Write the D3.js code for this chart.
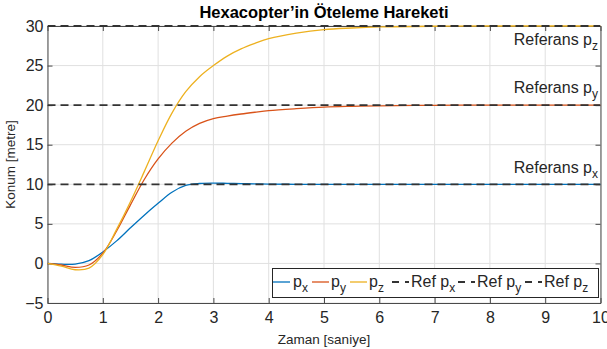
<!DOCTYPE html>
<html><head><meta charset="utf-8">
<script src="https://cdn.jsdelivr.net/npm/d3@7"></script>
<style>
html,body{margin:0;padding:0;background:#fff;}
svg{display:block;font-family:"Liberation Sans",Arial,Helvetica,sans-serif;}
</style></head>
<body>
<svg id="chart" width="607" height="349"></svg>
<script>
const time = [0,0.25,0.5,0.75,1,1.25,1.5,1.75,2,2.25,2.5,2.75,3,3.25,3.5,3.75,4,4.5,5,5.5,6,7,8,9,10];
const px = [0,-0.1,-0.08,0.35,1.45,2.85,4.5,6.1,7.6,9.0,9.85,10.1,10.15,10.12,10.08,10.05,10.02,10.0,10.0,10.0,10.0,10.0,10.0,10.0,10.0];
const py = [0,-0.2,-0.5,-0.2,1.3,4.1,7.4,10.6,13.2,15.2,16.7,17.7,18.3,18.62,18.88,19.1,19.3,19.55,19.75,19.85,19.92,19.98,20.0,20.0,20.0];
const pz = [0,-0.35,-0.8,-0.6,1.1,4.3,7.8,11.6,15.5,19.0,21.7,23.6,25.0,26.2,27.1,27.8,28.4,29.1,29.55,29.75,29.88,29.97,30.0,30.0,30.0];
const refs = [10,20,30];
const refLabels = [{v:11.46, sub:"x"},{v:21.57, sub:"y"},{v:27.6, sub:"z"}];
const xTicks = [0,1,2,3,4,5,6,7,8,9,10];
const yTicks = [-5,0,5,10,15,20,25,30];
const colors = ["#0072BD","#D95319","#EDB120"];
const title = "Hexacopter\u2019in \u00D6teleme Hareketi";
const xLabel = "Zaman [saniye]";
const yLabel = "Konum [metre]";

const svg = d3.select("#chart");
const L = 47.5, R = 600.5, T = 26, B = 303;
const x = d3.scaleLinear().domain([0,10]).range([L,R]);
const y = d3.scaleLinear().domain([-5,30]).range([B,T]);

// grid
const g = svg.append("g");
g.selectAll(".gx").data(xTicks).enter().append("line")
  .attr("x1",d=>x(d)).attr("x2",d=>x(d)).attr("y1",T).attr("y2",B)
  .attr("stroke","#e0e0e0").attr("stroke-width",1);
g.selectAll(".gy").data(yTicks).enter().append("line")
  .attr("y1",d=>y(d)).attr("y2",d=>y(d)).attr("x1",L).attr("x2",R)
  .attr("stroke","#e0e0e0").attr("stroke-width",1);

// axes
const axisColor = "#4a4a4a";
const xb = svg.append("g").attr("transform",`translate(0,${B})`)
  .call(d3.axisBottom(x).tickValues(xTicks).tickSizeInner(-5).tickSizeOuter(0).tickPadding(9).tickFormat(d3.format("d")));
const xt = svg.append("g").attr("transform",`translate(0,${T})`)
  .call(d3.axisTop(x).tickValues(xTicks).tickSizeInner(-5).tickSizeOuter(0).tickFormat(""));
const yl = svg.append("g").attr("transform",`translate(${L},0)`)
  .call(d3.axisLeft(y).tickValues(yTicks).tickSizeInner(-5).tickSizeOuter(0).tickPadding(4).tickFormat(d3.format("d")));
const yr = svg.append("g").attr("transform",`translate(${R},0)`)
  .call(d3.axisRight(y).tickValues(yTicks).tickSizeInner(-5).tickSizeOuter(0).tickFormat(""));
[xb,xt,yl,yr].forEach(a=>{
  a.select(".domain").attr("stroke",axisColor);
  a.selectAll(".tick line").attr("stroke",axisColor);
  a.selectAll("text").attr("fill","#262626").style("font-size","16px").style("font-family","'Liberation Sans',Arial,sans-serif");
});
xb.selectAll("text").attr("dy","0.71em");

// clip
svg.append("clipPath").attr("id","clip").append("rect").attr("x",L).attr("y",T-1).attr("width",R-L).attr("height",B-T+1);

const plot = svg.append("g").attr("clip-path","url(#clip)");
const line = d3.line().x((d,i)=>x(time[i])).y(d=>y(d)).curve(d3.curveCatmullRom.alpha(0.5));
[px,py,pz].forEach((s,i)=>{
  plot.append("path").datum(s).attr("d",line).attr("fill","none")
    .attr("stroke",colors[i]).attr("stroke-width",1.3);
});
plot.selectAll(".ref").data(refs).enter().append("line")
  .attr("x1",L).attr("x2",R).attr("y1",d=>y(d)).attr("y2",d=>y(d))
  .attr("stroke","#333").attr("stroke-width",1.8).attr("stroke-dasharray","8,5");

// reference labels
refLabels.forEach(r=>{
  const t = svg.append("text").attr("x",598).attr("y",y(r.v)).attr("text-anchor","end")
    .attr("fill","#262626").style("font-size","16px");
  t.append("tspan").text("Referans p");
  t.append("tspan").text(r.sub).attr("dy",5).style("font-size","12px");
});

// title and labels
svg.append("text").attr("x",(L+R)/2).attr("y",18).attr("text-anchor","middle")
  .style("font-weight","bold").style("font-size","16.5px").attr("fill","#000").text(title);
svg.append("text").attr("x",(L+R)/2).attr("y",344).attr("text-anchor","middle")
  .style("font-size","13.5px").attr("fill","#262626").text(xLabel);
svg.append("text").attr("transform",`translate(15,${(T+B)/2}) rotate(-90)`).attr("text-anchor","middle")
  .style("font-size","13.5px").attr("fill","#262626").text(yLabel);

// legend
const lg = svg.append("g");
lg.append("rect").attr("x",272.5).attr("y",268.5).attr("width",326).attr("height",29)
  .attr("fill","#fff").attr("stroke","#262626").attr("stroke-width",1);
const legItems = [
  {x:273, tx:293, label:"p", sub:"x", color:colors[0], dash:null},
  {x:312, tx:331, label:"p", sub:"y", color:colors[1], dash:null},
  {x:350, tx:369, label:"p", sub:"z", color:colors[2], dash:null},
  {x:392, tx:411, label:"Ref p", sub:"x", color:"#333", dash:"7,6"},
  {x:458, tx:477, label:"Ref p", sub:"y", color:"#333", dash:"7,6"},
  {x:525, tx:544, label:"Ref p", sub:"z", color:"#333", dash:"7,6"}
];
legItems.forEach(it=>{
  lg.append("line").attr("x1",it.x).attr("x2",it.x+17).attr("y1",282).attr("y2",282)
    .attr("stroke",it.color).attr("stroke-width",it.dash?1.8:1.3)
    .attr("stroke-dasharray",it.dash);
  const t = lg.append("text").attr("x",it.tx).attr("y",287).attr("fill","#262626").style("font-size","16px");
  t.append("tspan").text(it.label);
  t.append("tspan").text(it.sub).attr("dy",5).style("font-size","12px");
});
</script>
</body></html>
